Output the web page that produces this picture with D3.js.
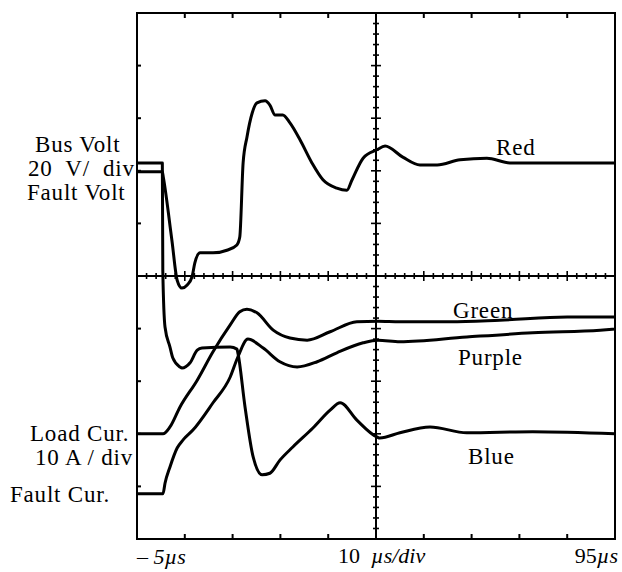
<!DOCTYPE html>
<html>
<head>
<meta charset="utf-8">
<script src="https://cdn.jsdelivr.net/npm/d3@7"></script>
<style>
  body { margin: 0; background: #fff; }
</style>
</head>
<body>
<svg id="chart" width="622" height="572"></svg>
<script>
const WIDTH = 622;
const HEIGHT = 572;
const MARGIN = { top: 13, right: 7, bottom: 33, left: 137 };
const FONT = "'Liberation Serif', 'Times New Roman', 'DejaVu Serif', serif";

// time in µs, level in screen divisions (centre line = 0)
const red = [
  [-5, 1.98], [0.3, 1.98], [0.5, 1.88], [2.3, 0.68], [3.4, -0.08], [4.4, -0.23],
  [5.5, -0.17], [6.5, -0.02], [7.1, 0.25], [8.2, 0.44], [10.9, 0.44], [13.8, 0.49],
  [15.9, 0.59], [16.5, 0.74], [17.2, 2.15], [18.0, 2.64], [19.1, 3.10], [20.1, 3.29],
  [21.8, 3.33], [22.8, 3.25], [23.9, 3.06], [25.5, 3.06], [27.0, 2.91], [29.1, 2.59],
  [31.6, 2.15], [33.9, 1.83], [36.8, 1.67], [38.9, 1.63], [40.0, 1.83], [42.3, 2.24],
  [45.2, 2.40], [46.9, 2.47], [50.6, 2.26], [54.2, 2.11], [57.8, 2.11], [62.6, 2.21],
  [68.2, 2.24], [73.0, 2.15], [85.6, 2.15], [95, 2.15]
];
const blue = [
  [-5, 2.15], [0.3, 2.15], [0.4, 0.1], [0.86, -0.97], [1.9, -1.35], [2.5, -1.56],
  [4.0, -1.73], [4.4, -1.75], [6.1, -1.65], [7.6, -1.41], [8.6, -1.37], [14.5, -1.35],
  [15.9, -1.39], [16.1, -1.46], [17.6, -2.49], [19.3, -3.44], [21.2, -3.78], [22.8, -3.75],
  [24.9, -3.50], [27.6, -3.25], [31.8, -2.89], [35.4, -2.55], [37.5, -2.41], [41.0, -2.74],
  [45.2, -3.06], [45.8, -3.08], [50.0, -2.98], [56.3, -2.87], [64.0, -2.98], [77.8, -2.96],
  [95, -3.00]
];
const green = [
  [-5, -3.00], [0.44, -3.00], [1.9, -2.87], [4.0, -2.49], [7.6, -1.98], [10.9, -1.44],
  [14.5, -0.93], [16.5, -0.68], [18.0, -0.63], [20.1, -0.70], [23.5, -1.03], [27.0, -1.18],
  [30.6, -1.22], [35.4, -1.06], [41.0, -0.87], [45.4, -0.86], [50.0, -0.87], [60.5, -0.87],
  [70.9, -0.84], [85.0, -0.78], [95, -0.78]
];
const purple = [
  [-5, -4.14], [0.44, -4.14], [0.86, -3.94], [1.9, -3.63], [3.4, -3.27], [4.6, -3.12],
  [6.7, -2.93], [10.9, -2.41], [14.5, -1.92], [16.1, -1.54], [18.2, -1.20], [21.4, -1.37],
  [24.9, -1.63], [28.5, -1.73], [32.7, -1.63], [36.8, -1.46], [42.3, -1.27], [45.4, -1.22],
  [50.0, -1.25], [64.0, -1.16], [77.8, -1.08], [91.9, -1.03], [95, -1.01]
];

const xMajor = [-5, 5, 15, 25, 35, 45, 55, 65, 75, 85, 95];
const yMajor = [-5, -4, -3, -2, -1, 0, 1, 2, 3, 4, 5];
const leftLabels = ["Bus Volt", "20  V/  div", "Fault Volt", "Load Cur.", "10 A / div", "Fault Cur."];
const traceLabels = ["Red", "Green", "Purple", "Blue"];

const svg = d3.select("#chart");

const x = d3.scaleLinear().domain([-5, 95]).range([MARGIN.left, WIDTH - MARGIN.right]);
const y = d3.scaleLinear().domain([-5, 5]).range([HEIGHT - MARGIN.bottom, MARGIN.top]);

const g = svg.append("g").attr("stroke", "#000").attr("fill", "none");

// frame
g.append("rect")
  .attr("x", x(-5)).attr("y", y(5))
  .attr("width", x(95) - x(-5)).attr("height", y(-5) - y(5))
  .attr("stroke-width", 2);

// frame ticks
const inner = xMajor.slice(1, -1);
g.selectAll(".ttop").data(inner).join("line")
  .attr("x1", d => x(d)).attr("x2", d => x(d))
  .attr("y1", y(5)).attr("y2", y(5) + 5).attr("stroke-width", 2);
g.selectAll(".tbot").data(inner).join("line")
  .attr("x1", d => x(d)).attr("x2", d => x(d))
  .attr("y1", y(-5)).attr("y2", y(-5) - 5).attr("stroke-width", 2);
g.selectAll(".tleft").data(yMajor.slice(1, -1)).join("line")
  .attr("x1", x(-5)).attr("x2", x(-5) + 4)
  .attr("y1", d => y(d)).attr("y2", d => y(d)).attr("stroke-width", 2);

// centre graticule lines
g.append("line").attr("x1", x(-5)).attr("x2", x(95))
  .attr("y1", y(0)).attr("y2", y(0)).attr("stroke-width", 2);
g.append("line").attr("x1", x(45)).attr("x2", x(45))
  .attr("y1", y(5)).attr("y2", y(-5)).attr("stroke-width", 2);

const xMinor = d3.range(-5, 95.01, 2);
g.selectAll(".hx").data(xMinor).join("line")
  .attr("x1", d => x(d)).attr("x2", d => x(d))
  .attr("y1", d => y(0) - ((d + 5) % 10 === 0 ? 5 : 3))
  .attr("y2", d => y(0) + ((d + 5) % 10 === 0 ? 5 : 3))
  .attr("stroke-width", 1.6);

const yMinor = d3.range(-5, 5.01, 0.2);
g.selectAll(".vy").data(yMinor).join("line")
  .attr("x1", d => x(45) - (Math.abs(d - Math.round(d)) < 1e-6 ? 5 : 3))
  .attr("x2", d => x(45) + (Math.abs(d - Math.round(d)) < 1e-6 ? 5 : 3))
  .attr("y1", d => y(d)).attr("y2", d => y(d))
  .attr("stroke-width", 1.6);

// traces
const line = d3.line().x(d => x(d[0])).y(d => y(d[1])).curve(d3.curveMonotoneX);
[red, blue, green, purple].forEach(s => {
  svg.append("path").datum(s)
    .attr("d", line)
    .attr("fill", "none")
    .attr("stroke", "#000")
    .attr("stroke-width", 3)
    .attr("stroke-linejoin", "round");
});

// labels
const txt = svg.append("g")
  .attr("font-family", FONT)
  .attr("font-size", 23)
  .attr("letter-spacing", 0.8)
  .attr("fill", "#000");
const leftPos = [[35, 152], [28, 176], [27, 200], [30, 441], [35, 465], [10, 502]];
leftLabels.forEach((t, i) => {
  txt.append("text").attr("x", leftPos[i][0]).attr("y", leftPos[i][1])
    .attr("xml:space", "preserve").text(t);
});

const tracePos = [[496, 155], [453, 318], [458, 365], [468, 464]];
traceLabels.forEach((t, i) => {
  txt.append("text").attr("x", tracePos[i][0]).attr("y", tracePos[i][1]).text(t);
});

// bottom time labels
const b = svg.append("g")
  .attr("font-family", FONT)
  .attr("font-size", 22)
  .attr("fill", "#000");
const t1 = b.append("text").attr("x", x(-5)).attr("y", 564);
t1.append("tspan").text("– ");
t1.append("tspan").attr("font-style", "italic").text("5µs");

const t2 = b.append("text").attr("x", 338).attr("y", 563).attr("xml:space", "preserve");
t2.append("tspan").text("10  ");
t2.append("tspan").attr("font-style", "italic").text("µs/div");

const t3 = b.append("text").attr("x", x(95) + 3).attr("y", 563).attr("text-anchor", "end");
t3.append("tspan").text("95");
t3.append("tspan").attr("font-style", "italic").text("µs");
</script>
</body>
</html>
